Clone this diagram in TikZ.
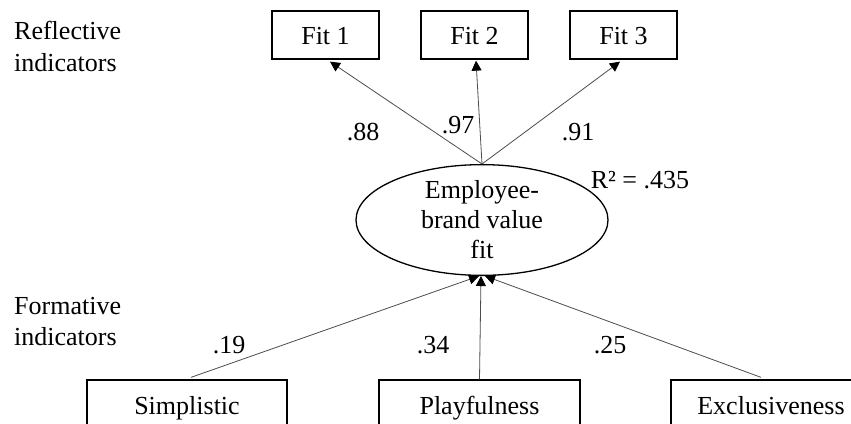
\documentclass[tikz,border=0pt]{standalone}
\usepackage{fontspec}
\setmainfont{Liberation Serif}
\usetikzlibrary{arrows.meta,shapes.geometric,calc}
\begin{document}
\begin{tikzpicture}[x=1pt,y=-1pt,
  every node/.style={font=\fontsize{26}{30}\selectfont, inner sep=0pt},
  box/.style={draw=black, line width=1.3pt, rectangle, text height=18pt, text depth=0pt},
  latent/.style={draw=black, line width=1.3pt, ellipse, minimum width=252pt, minimum height=108pt, align=center},
  conn/.style={draw=black!70, line width=0.8pt, -{Triangle[length=10pt,width=10pt,black]}},
  lbl/.style={anchor=center},
  side/.style={align=left, anchor=north west, font=\fontsize{26}{31.5}\selectfont}]
\useasboundingbox (0,0) rectangle (851,423);
\clip (0,0) rectangle (851,423);

% reflective indicator boxes
\node[box, minimum width=107pt, minimum height=48pt] (f1) at (325.5,35) {Fit 1};
\node[box, minimum width=107pt, minimum height=48pt] (f2) at (474.5,35) {Fit 2};
\node[box, minimum width=107pt, minimum height=48pt] (f3) at (623.5,35) {Fit 3};

% latent construct
\node[latent] (emp) at (482,220) {Employee-\\brand value\\fit};

% formative indicator boxes (cut off at bottom)
\node[box, minimum width=200pt, minimum height=50pt] (simp) at (187,405) {Simplistic};
\node[box, minimum width=201pt, minimum height=50pt] (play) at (479.5,405) {Playfulness};
\node[box, minimum width=200pt, minimum height=50pt] (exc) at (771,405) {Exclusiveness};

% side labels
\node[side] (refl) at (14,21) {Reflective\\indicators};
\node[side] (form) at (14,297) {Formative\\indicators};

% reflective connectors
\draw[conn] (emp.north) -- ($(f1.south)+(4.5,2)$);
\draw[conn] (emp.north) -- ($(f2.south)+(1.5,1)$);
\draw[conn] (emp.north) -- ($(f3.south)+(-3.5,2)$);

% formative connectors
\draw[conn] ($(simp.north)+(4,-2)$) -- ($(emp.south)+(-3,0)$);
\draw[conn] (play.north) -- ($(emp.south)+(-1,0)$);
\draw[conn] ($(exc.north)+(-10,-2)$) -- ($(emp.south)+(3,0)$);

% loadings and weights
\node[lbl] (l88) at (363,132) {.88};
\node[lbl] (l97) at (458,125) {.97};
\node[lbl] (l91) at (578,132) {.91};
\node[lbl] (r2) at (640,180) {R² = .435};
\node[lbl] (l19) at (229,345) {.19};
\node[lbl] (l34) at (433,345) {.34};
\node[lbl] (l25) at (610,345) {.25};
\end{tikzpicture}
\end{document}
